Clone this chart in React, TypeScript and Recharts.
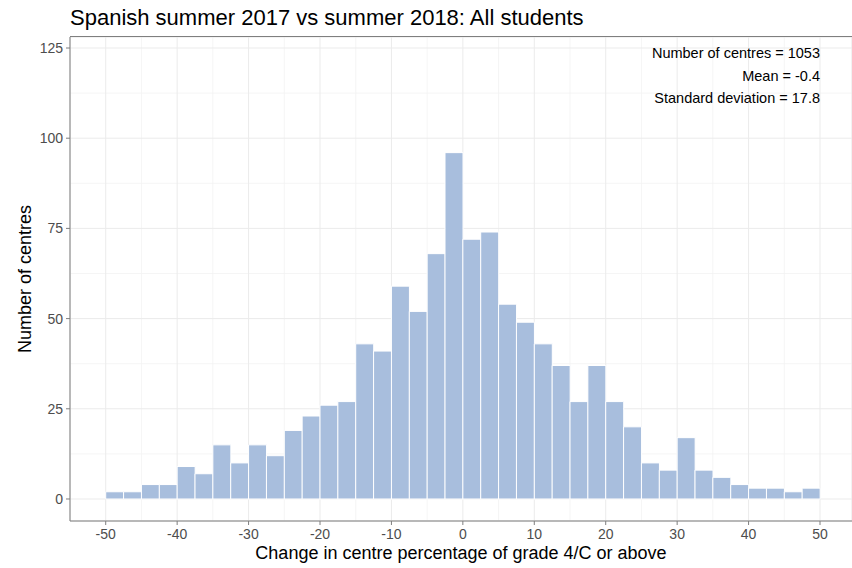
import React from 'react';
import { ComposedChart, Bar, XAxis, YAxis, CartesianGrid } from 'recharts';

// histogram bins (left edge) and number of centres per bin
const binStarts = [
  -50, -47.5, -45, -42.5, -40, -37.5, -35, -32.5, -30, -27.5,
  -25, -22.5, -20, -17.5, -15, -12.5, -10, -7.5, -5, -2.5,
  0, 2.5, 5, 7.5, 10, 12.5, 15, 17.5, 20, 22.5,
  25, 27.5, 30, 32.5, 35, 37.5, 40, 42.5, 45, 47.5,
];
const centreCounts = [
  2, 2, 4, 4, 9, 7, 15, 10, 15, 12,
  19, 23, 26, 27, 43, 41, 59, 52, 68, 96,
  72, 74, 54, 49, 43, 37, 27, 37, 27, 20,
  10, 8, 17, 8, 6, 4, 3, 3, 2, 3,
];
const xTicks = [-50, -40, -30, -20, -10, 0, 10, 20, 30, 40, 50];
const xMinorTicks = [-45, -35, -25, -15, -5, 5, 15, 25, 35, 45];
const yTicks = [0, 25, 50, 75, 100, 125];
const yMinorTicks = [12.5, 37.5, 62.5, 87.5, 112.5];
const statLines = ['Number of centres = 1053', 'Mean = -0.4', 'Standard deviation = 17.8'];

const BIN_WIDTH = 2.5;
const X_DOMAIN: [number, number] = [-55, 54.48];
const Y_DOMAIN: [number, number] = [-6.1, 128.05];

const W = 852;
const H = 568;
const LEFT = 70;
const TOP = 37;
const X_AXIS_H = 47;

const pxPerUnit = (W - LEFT) / (X_DOMAIN[1] - X_DOMAIN[0]);
const binPadding = {
  left: (binStarts[0] - X_DOMAIN[0]) * pxPerUnit,
  right: (X_DOMAIN[1] - (binStarts[binStarts.length - 1] + BIN_WIDTH)) * pxPerUnit,
};

const data = binStarts.map((start, i) => ({
  bin: start,
  mid: start + BIN_WIDTH / 2,
  count: centreCounts[i],
}));

const axisGrey = '#7f7f7f';
const tickStyle = { fill: '#4d4d4d', fontSize: 14 };

const App: React.FC = () => {
  return (
    <div
      style={{
        position: 'absolute',
        left: 0,
        top: 0,
        width: W,
        height: H,
        background: '#fff',
        fontFamily: '"Liberation Sans", Arial, sans-serif',
      }}
    >
      <div style={{ position: 'absolute', left: 70, top: 7, fontSize: 22, lineHeight: '22px', color: '#000' }}>
        Spanish summer 2017 vs summer 2018: All students
      </div>
      <ComposedChart
        width={W}
        height={H}
        data={data}
        margin={{ top: TOP, right: 0, bottom: 0, left: 0 }}
        barCategoryGap={0}
        barGap={0}
      >
        <CartesianGrid xAxisId="minorX" yAxisId="minorY" stroke="#f3f3f3" strokeWidth={0.8} />
        <CartesianGrid xAxisId="num" yAxisId="main" stroke="#ebebeb" strokeWidth={1} />
        <XAxis
          xAxisId="num"
          dataKey="mid"
          type="number"
          domain={X_DOMAIN}
          ticks={xTicks}
          interval={0}
          allowDataOverflow
          height={X_AXIS_H}
          tickSize={4}
          tickMargin={4}
          tick={tickStyle}
          tickLine={{ stroke: axisGrey }}
          axisLine={{ stroke: axisGrey }}
          label={{
            value: 'Change in centre percentage of grade 4/C or above',
            position: 'insideBottom',
            offset: 9,
            style: { fill: '#000', fontSize: 18 },
          }}
        />
        <XAxis xAxisId="bins" dataKey="bin" type="category" hide height={0} padding={binPadding} />
        <XAxis
          xAxisId="minorX"
          dataKey="mid"
          type="number"
          domain={X_DOMAIN}
          ticks={xMinorTicks}
          allowDataOverflow
          hide
          height={0}
        />
        <YAxis
          yAxisId="main"
          dataKey="count"
          type="number"
          domain={Y_DOMAIN}
          ticks={yTicks}
          interval={0}
          allowDataOverflow
          width={LEFT}
          tickSize={4}
          tickMargin={3}
          tick={tickStyle}
          tickLine={{ stroke: axisGrey }}
          axisLine={{ stroke: axisGrey }}
          label={{
            value: 'Number of centres',
            angle: -90,
            position: 'center',
            dx: -10,
            style: { fill: '#000', fontSize: 18, textAnchor: 'middle' },
          }}
        />
        <YAxis
          yAxisId="minorY"
          dataKey="count"
          type="number"
          domain={Y_DOMAIN}
          ticks={yMinorTicks}
          allowDataOverflow
          hide
          width={0}
        />
        <Bar
          xAxisId="bins"
          yAxisId="main"
          dataKey="count"
          fill="#a8bedd"
          stroke="#ffffff"
          strokeWidth={1}
          isAnimationActive={false}
        />
      </ComposedChart>
      <div
        style={{
          position: 'absolute',
          left: LEFT,
          top: TOP - 1,
          width: W - LEFT,
          height: 1,
          background: axisGrey,
        }}
      />
      <div
        style={{
          position: 'absolute',
          right: 32,
          top: 42,
          textAlign: 'right',
          fontSize: 14.5,
          lineHeight: '22.5px',
          color: '#000',
        }}
      >
        {statLines.map(line => (
          <div key={line}>{line}</div>
        ))}
      </div>
    </div>
  );
};

export default App;
